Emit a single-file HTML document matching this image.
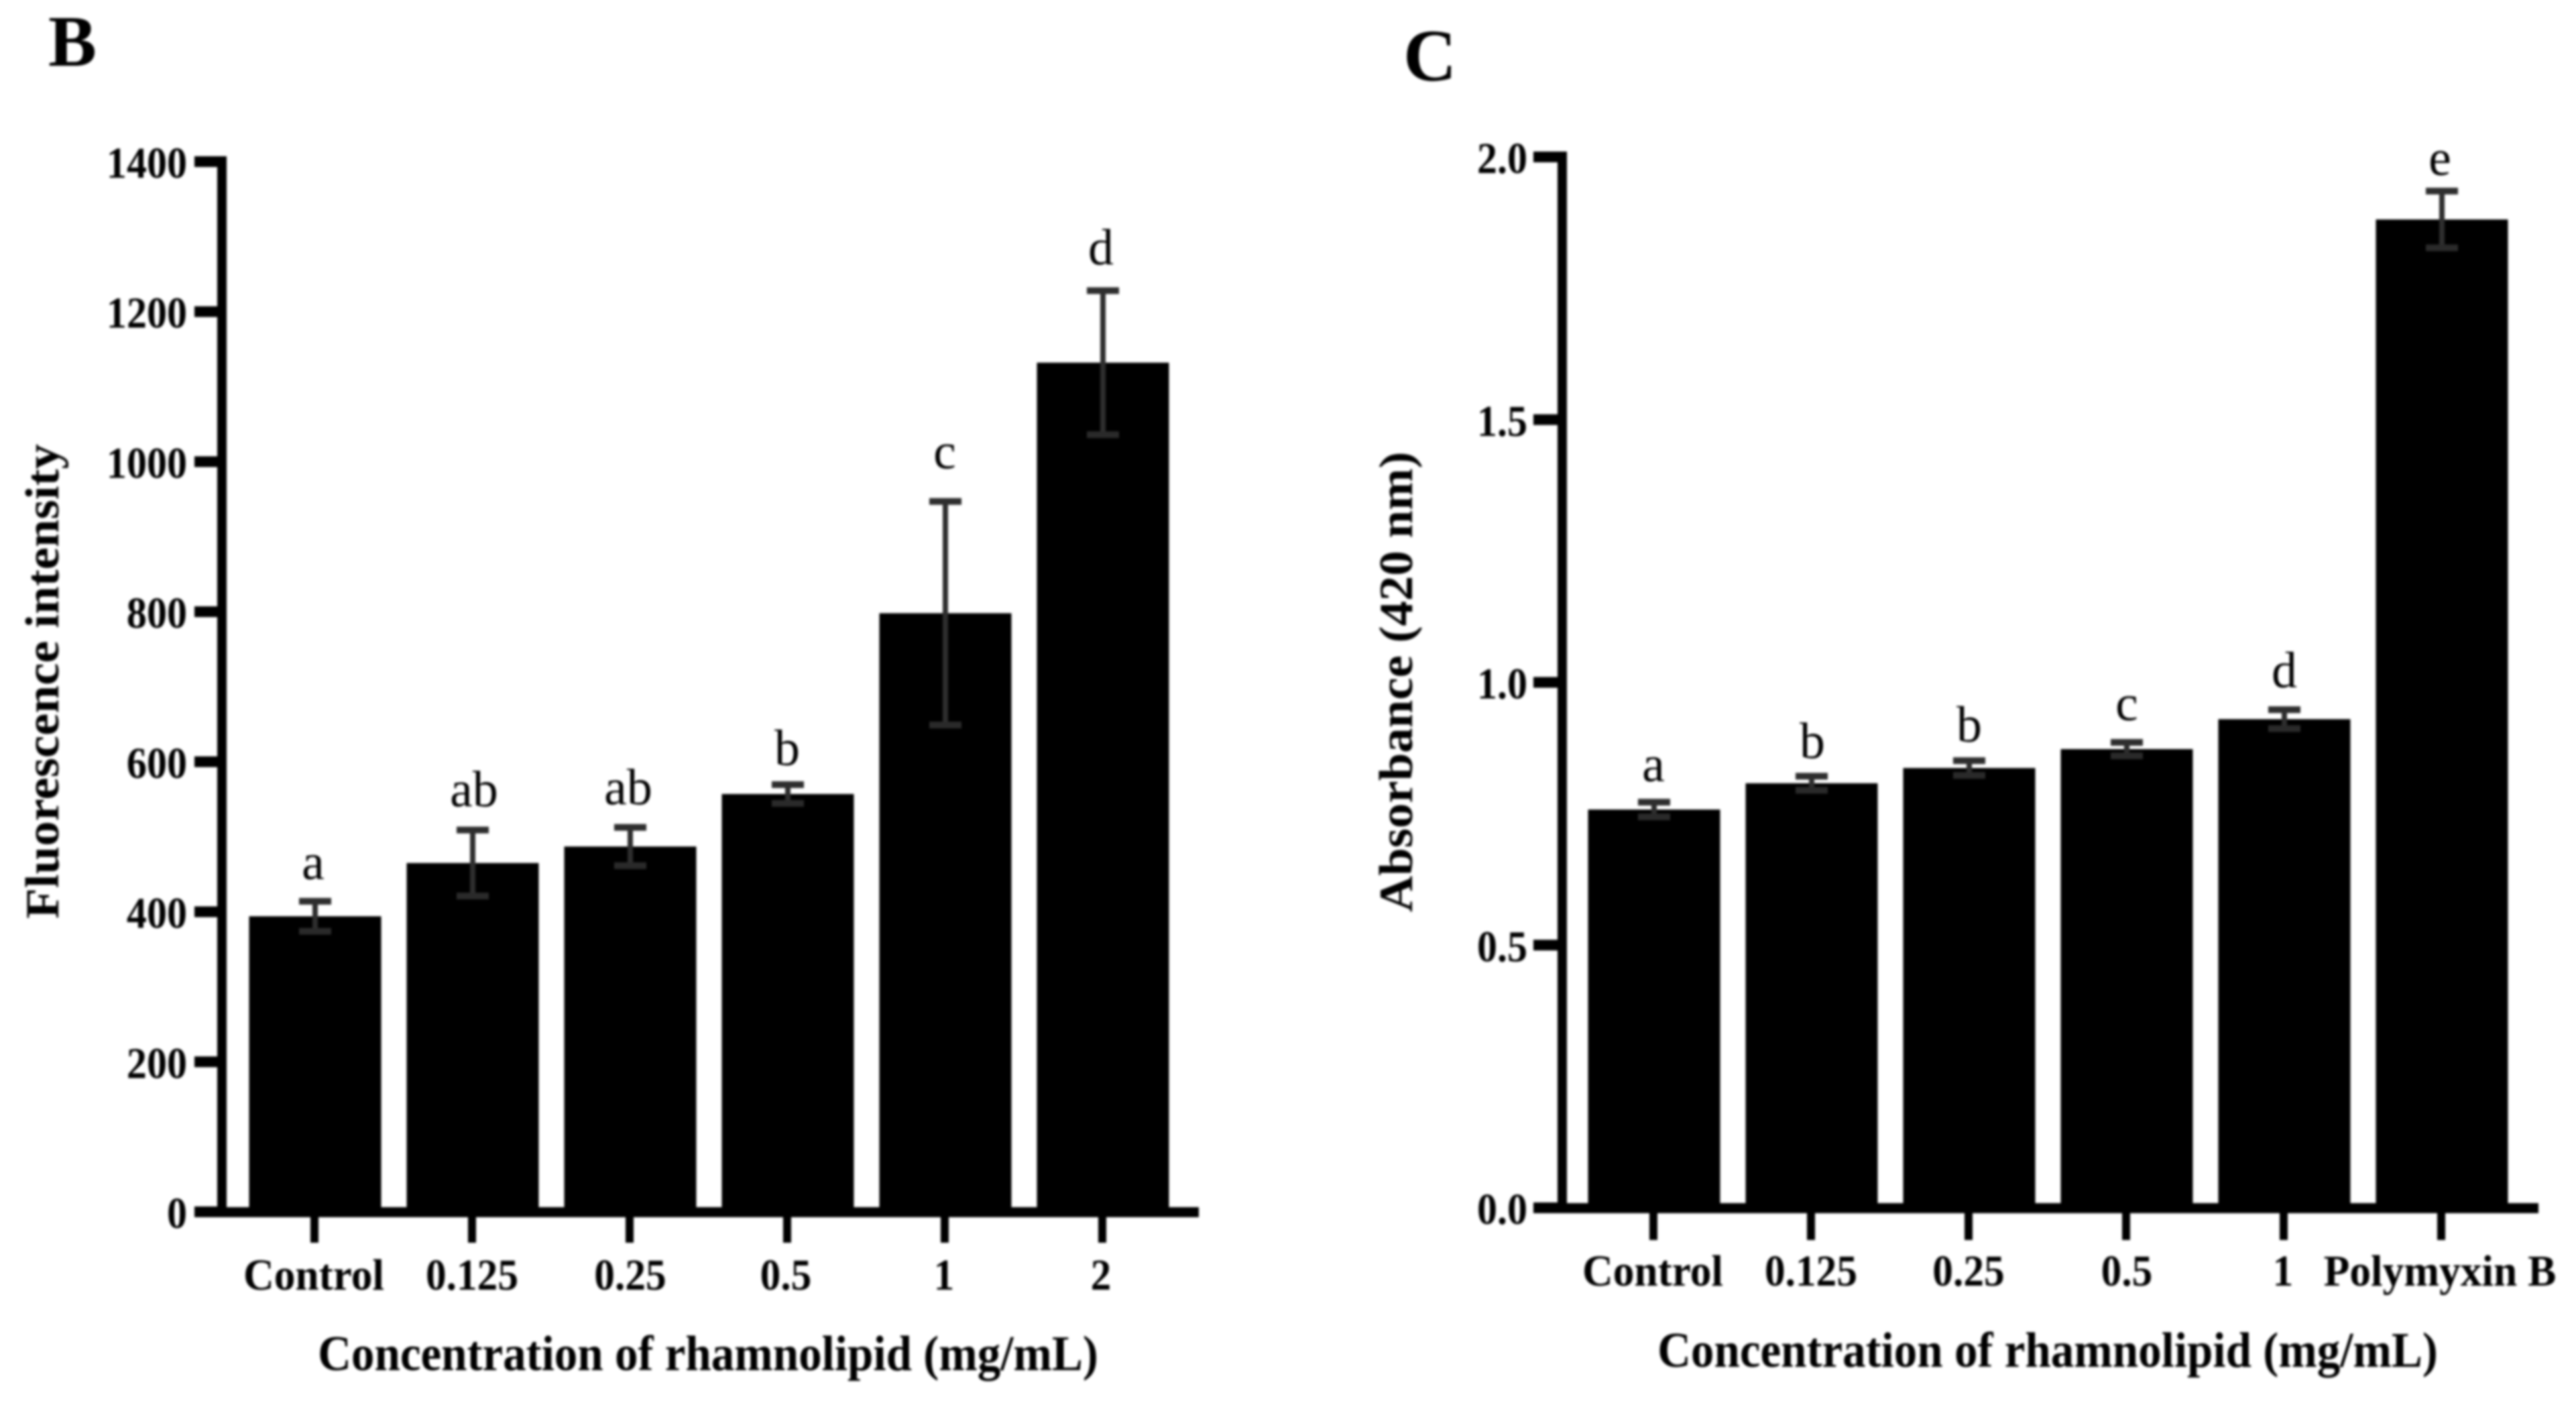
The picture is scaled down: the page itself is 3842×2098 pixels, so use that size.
<!DOCTYPE html>
<html lang="en">
<head>
<meta charset="utf-8">
<title>Rhamnolipid fluorescence and absorbance bar charts</title>
<style>
  html, body { margin: 0; padding: 0; background: #fff; }
  #figure { display: block; width: 3842px; height: 2098px; background: #fff; filter: blur(1.8px); }
  text { font-family: "Liberation Serif", "Times New Roman", serif; fill: #000; }
</style>
</head>
<body>
<svg id="figure" xmlns="http://www.w3.org/2000/svg" width="3842" height="2098" viewBox="0 0 3842 2098">
  <rect x="0" y="0" width="3842" height="2098" fill="#fff"/>
</svg>
<script>
// Panel B data
const bCategories = ['Control', '0.125', '0.25', '0.5', '1', '2'];
const bValues = [394, 465, 487, 557, 798, 1132];
const bErrors = [20, 44, 25.5, 12.5, 149, 96];
const bLetters = ['a', 'ab', 'ab', 'b', 'c', 'd'];
const bTicks = [0, 200, 400, 600, 800, 1000, 1200, 1400];
const bTickLabels = ['0', '200', '400', '600', '800', '1000', '1200', '1400'];

// Panel C data
const cCategories = ['Control', '0.125', '0.25', '0.5', '1', 'Polymyxin B'];
const cValues = [0.758, 0.808, 0.837, 0.873, 0.930, 1.881];
const cErrors = [0.014, 0.0134, 0.014, 0.0128, 0.018, 0.054];
const cLetters = ['a', 'b', 'b', 'c', 'd', 'e'];
const cTicks = [0, 0.5, 1, 1.5, 2];
const cTickLabels = ['0.0', '0.5', '1.0', '1.5', '2.0'];

const SVG_NS = 'http://www.w3.org/2000/svg';
const root = document.getElementById('figure');

function group(parent, name) {
  const el = document.createElementNS(SVG_NS, 'g');
  
  
  parent.appendChild(el);
  return el;
}
function rect(parent, name, x, y, w, h, fill) {
  const el = document.createElementNS(SVG_NS, 'rect');
  el.setAttribute('x', x);
  el.setAttribute('y', y);
  el.setAttribute('width', w);
  el.setAttribute('height', h);
  el.setAttribute('fill', fill);
  
  
  parent.appendChild(el);
  return el;
}
function label(parent, name, str, x, y, size, weight, anchor, sx, rotate) {
  const el = document.createElementNS(SVG_NS, 'text');
  el.textContent = str;
  el.setAttribute('font-size', size);
  el.setAttribute('font-weight', weight);
  el.setAttribute('text-anchor', anchor);
  el.setAttribute('transform', 'translate(' + x + ',' + y + ')' + (rotate ? ' rotate(' + rotate + ')' : '') + ' scale(' + sx + ',1)');
  
  
  parent.appendChild(el);
  return el;
}

function drawPanel(p, categories, values, errors, letters, ticks, tickLabels) {
  const g = group(root, p.name);
  const maxTick = ticks[ticks.length - 1];
  const y = v => p.y0 - (v / maxTick) * (p.y0 - p.yTop);
  const x = i => p.x0 + i * p.pitch;

  const bars = group(g, 'bars');
  categories.forEach((c, i) => {
    rect(bars, 'bar-' + i, x(i) - p.barW / 2, y(values[i]), p.barW, p.y0 - y(values[i]), '#000');
  });

  const errs = group(g, 'error-bars');
  categories.forEach((c, i) => {
    const hi = y(values[i] + errors[i]);
    const lo = y(values[i] - errors[i]);
    rect(errs, 'error-stem-' + i, x(i) - 4, hi, 8, lo - hi, '#2e2e2e');
    rect(errs, 'error-cap-top-' + i, x(i) - 24, hi - 5, 48, 10, '#2e2e2e');
    rect(errs, 'error-cap-bottom-' + i, x(i) - 24, lo - 5, 48, 10, '#2a2a2a');
  });

  const sig = group(g, 'significance-letters');
  categories.forEach((c, i) => {
    label(sig, 'significance-' + i, letters[i], x(i) + p.letterDx[i], y(values[i] + errors[i]) - p.letterPad[i], 76, 'normal', 'middle', 1);
  });

  const yAxis = group(g, 'y-axis');
  rect(yAxis, 'y-axis-line', p.axisX - 7, p.yTop - 8, 14, p.y0 - p.yTop + 16, '#000');
  ticks.forEach((t, i) => {
    rect(yAxis, 'y-tick-' + i, p.tickX, y(t) - 8, p.axisX - p.tickX, 16, '#000');
    label(yAxis, 'y-tick-label-' + i, tickLabels[i], p.tickLabelX, y(t) + 24, 66, 'bold', 'end', 0.91);
  });

  const xAxis = group(g, 'x-axis');
  rect(xAxis, 'x-axis-line', p.tickX, p.axisY - 8, p.xEnd - p.tickX, 15, '#000');
  categories.forEach((c, i) => {
    rect(xAxis, 'x-tick-' + i, x(i) - 6 + p.tickDx, p.axisY, 12, p.xTickEnd - p.axisY, '#000');
    label(xAxis, 'x-tick-label-' + i, c, x(i) + p.catDx[i], p.catBase, 66, 'bold', 'middle', /^[0-9.]+$/.test(c) ? 0.93 : 0.96);
  });

  label(g, 'x-axis-title', 'Concentration of rhamnolipid (mg/mL)', p.xTitleX, p.xTitleY, 74, 'bold', 'middle', 0.933);
  label(g, 'y-axis-title', p.yTitle, p.yTitleX, p.yTitleY, 71, 'bold', 'start', 1.055, -90);
  label(g, 'panel-letter', p.letter, p.letterX, p.letterY, p.letterSize, 'bold', 'start', 1);
}

drawPanel({
  name: 'panel-b-chart', letter: 'B', letterX: 72, letterY: 98, letterSize: 108,
  y0: 1807, yTop: 241, x0: 470, pitch: 235, barW: 197,
  axisX: 331, axisY: 1808, tickX: 290, xEnd: 1788, xTickEnd: 1853, tickDx: -1,
  tickLabelX: 279, catBase: 1923, catDx: [-2, -1, 0, -3, -2, -3],
  letterDx: [-3, 2, -3, -1, -1, -3], letterPad: [33, 35, 34, 29, 49, 39],
  xTitleX: 1056, xTitleY: 2043,
  yTitle: 'Fluorescence intensity', yTitleX: 87, yTitleY: 1370
}, bCategories, bValues, bErrors, bLetters, bTicks, bTickLabels);

drawPanel({
  name: 'panel-c-chart', letter: 'C', letterX: 2093, letterY: 120, letterSize: 110,
  y0: 1801, yTop: 234, x0: 2467, pitch: 235, barW: 197,
  axisX: 2330, axisY: 1802, tickX: 2287, xEnd: 3786, xTickEnd: 1849, tickDx: -1,
  tickLabelX: 2278, catBase: 1917, catDx: [-2, -1, -1, 0, -2, -3],
  letterDx: [-1, 1, 0, 0, 0, -3], letterPad: [31, 27, 28, 33, 33, 24],
  xTitleX: 3054, xTitleY: 2038,
  yTitle: 'Absorbance (420 nm)', yTitleX: 2106, yTitleY: 1360
}, cCategories, cValues, cErrors, cLetters, cTicks, cTickLabels);
</script>
</body>
</html>
